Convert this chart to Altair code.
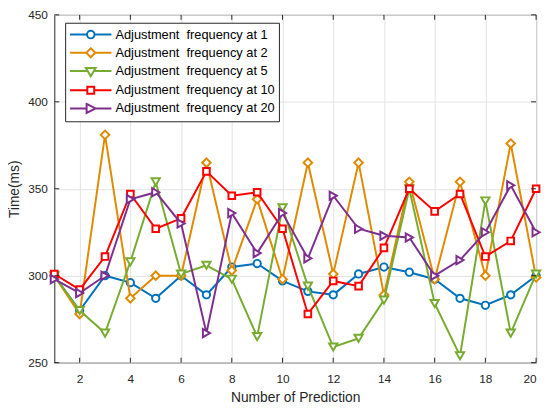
import altair as alt
import pandas as pd

x_vals = list(range(1, 21))
series_names = [
    "Adjustment\u00a0 frequency at 1",
    "Adjustment\u00a0 frequency at 2",
    "Adjustment\u00a0 frequency at 5",
    "Adjustment\u00a0 frequency at 10",
    "Adjustment\u00a0 frequency at 20",
]
f1 = [300, 280, 300, 296, 287, 300, 289, 305, 307, 297, 291, 289, 301, 305, 302, 298, 287, 283, 289, 300]
f2 = [300, 278, 381, 287, 300, 300, 365, 303, 344, 298, 365, 301, 365, 289, 354, 298, 354, 300, 376, 299]
f5 = [300, 280, 267, 308, 354, 301, 306, 298, 265, 339, 294, 259, 264, 286, 350, 284, 254, 343, 267, 301]
f10 = [301, 292, 311, 347, 327, 333, 360, 346, 348, 327, 278, 297, 294, 316, 350, 337, 347, 311, 320, 350]
f20 = [298, 290, 300, 344, 348, 330, 267, 336, 313, 336, 310, 346, 327, 323, 322, 300, 309, 325, 352, 325]
all_series = [f1, f2, f5, f10, f20]

colors = ["#0072BD", "#E08A00", "#77AC30", "#FF0000", "#7E2F8E"]
shapes = ["circle", "diamond", "triangle-down", "square", "triangle-right"]
sizes = [55, 75, 70, 45, 70]

x_ticks = list(range(2, 21, 2))
y_ticks = [250, 300, 350, 400, 450]

legend_paths = [
    "M-1,0L1.45,0M2.55,0L5,0M1.45,0A0.55,0.55 0 1,1 2.55,0A0.55,0.55 0 1,1 1.45,0Z",
    "M-1,0L1.35,0M2.65,0L5,0M2,-0.65L2.65,0L2,0.65L1.35,0Z",
    "M-1,0L1.56,0M2.44,0L5,0M1.3,-0.45L2.7,-0.45L2,0.75Z",
    "M-1,0L1.5,0M2.5,0L5,0M1.5,-0.5L2.5,-0.5L2.5,0.5L1.5,0.5Z",
    "M-1,0L1.4,0M2.7,0L5,0M1.4,-0.65L2.7,0L1.4,0.65Z",
]

rows = []
for name, vals in zip(series_names, all_series):
    for xv, yv in zip(x_vals, vals):
        rows.append({"x": xv, "y": yv, "series": name})
df = pd.DataFrame(rows)

W, H = 489, 353
xscale = alt.Scale(domain=[1, 20], nice=False, zero=False)
yscale = alt.Scale(domain=[250, 450], nice=False, zero=False)
xaxis = alt.Axis(values=x_ticks, title="Number of Prediction", grid=True)
yaxis = alt.Axis(values=y_ticks, title="Time(ms)", grid=True)

layers = []
for name, col, shp, sz in zip(series_names, colors, shapes, sizes):
    base = alt.Chart(df).transform_filter(alt.datum.series == name)
    layers.append(
        base.mark_line(color=col, strokeWidth=2).encode(
            x=alt.X("x:Q", scale=xscale, axis=xaxis),
            y=alt.Y("y:Q", scale=yscale, axis=yaxis),
        )
    )
    layers.append(
        base.mark_point(shape=shp, filled=True, fill="white", stroke=col,
                        strokeWidth=2, size=sz, opacity=1).encode(
            x=alt.X("x:Q", scale=xscale, axis=xaxis),
            y=alt.Y("y:Q", scale=yscale, axis=yaxis),
        )
    )

leg = dict(
    title=None, orient="none", legendX=11, legendY=8,
    padding=4, strokeColor="#262626", fillColor="white",
    labelFontSize=13, labelColor="#000000", labelFont="Liberation Sans",
    symbolSize=196, symbolStrokeWidth=2, labelOffset=31,
    rowPadding=1.5, labelLimit=300, symbolOpacity=1,
)

# legend carrier layer (draws nothing itself)
legend_layer = alt.Chart(df).transform_filter("datum.x < 0").mark_point(
    filled=False, strokeWidth=2
).encode(
    x=alt.X("x:Q", scale=xscale, axis=xaxis),
    y=alt.Y("y:Q", scale=yscale, axis=yaxis),
    color=alt.Color("series:N", scale=alt.Scale(domain=series_names, range=colors),
                    legend=alt.Legend(**leg)),
    shape=alt.Shape("series:N", scale=alt.Scale(domain=series_names, range=legend_paths),
                    legend=alt.Legend(**leg)),
)

tick_df = pd.DataFrame({"t": x_ticks})
ytick_df = pd.DataFrame({"t": y_ticks})
tick_col = "#262626"
xt_bottom = alt.Chart(tick_df).mark_rule(color=tick_col, strokeWidth=1).encode(
    x=alt.X("t:Q", scale=xscale, axis=xaxis), y=alt.value(H), y2=alt.value(H - 5))
xt_top = alt.Chart(tick_df).mark_rule(color=tick_col, strokeWidth=1).encode(
    x=alt.X("t:Q", scale=xscale, axis=xaxis), y=alt.value(0), y2=alt.value(5))
yt_left = alt.Chart(ytick_df).mark_rule(color=tick_col, strokeWidth=1).encode(
    y=alt.Y("t:Q", scale=yscale, axis=yaxis), x=alt.value(0), x2=alt.value(5))
yt_right = alt.Chart(ytick_df).mark_rule(color=tick_col, strokeWidth=1).encode(
    y=alt.Y("t:Q", scale=yscale, axis=yaxis), x=alt.value(W), x2=alt.value(W - 5))

chart = alt.layer(*layers, xt_bottom, xt_top, yt_left, yt_right, legend_layer).properties(
    width=W, height=H,
    padding={"left": 47, "top": 4, "right": 6, "bottom": 40},
    autosize="none",
).configure_view(
    stroke="#262626", strokeWidth=1
).configure_axis(
    domain=False, ticks=False,
    gridColor="#e3e3e3", gridWidth=1,
    labelFont="Liberation Sans", labelFontSize=12, labelColor="#262626",
    titleFont="Liberation Sans", titleFontSize=14, titleFontWeight="normal",
    titleColor="#262626",
).configure_axisX(
    labelPadding=11, titlePadding=6
).configure_axisY(
    labelPadding=7, titlePadding=6
)

chart.save("out.html", embed_options={"renderer": "svg", "actions": False})
